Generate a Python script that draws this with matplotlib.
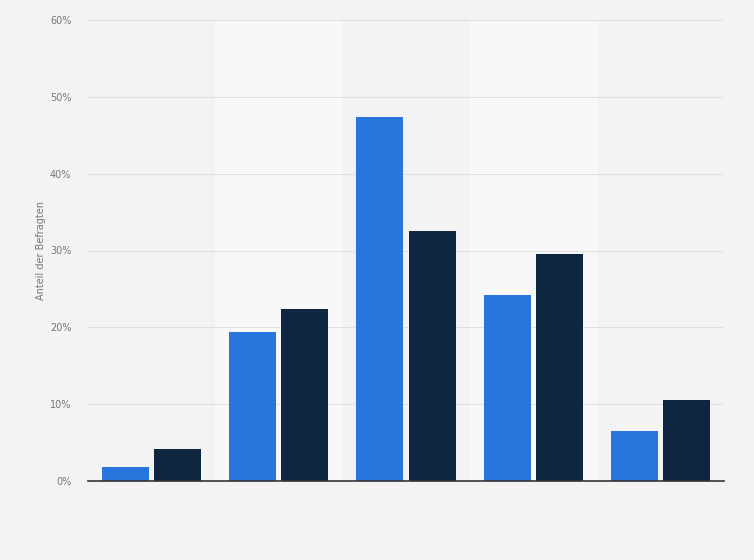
import matplotlib.pyplot as plt
import numpy as np
from matplotlib.ticker import FuncFormatter

# data (percent)
groups = ['1', '2', '3', '4', '5']
series_a = [1.8, 19.4, 47.4, 24.2, 6.5]
series_b = [4.2, 22.4, 32.6, 29.6, 10.5]
yticks = [0, 10, 20, 30, 40, 50, 60]

fig = plt.figure(figsize=(7.54, 5.6), dpi=100, facecolor='#f3f3f3')
ax = fig.add_axes([88 / 754, 79 / 560, 636 / 754, 461 / 560])
ax.set_facecolor('#f3f3f3')

x = np.arange(len(groups))
# alternating light bands
for i in x:
    if i % 2 == 1:
        ax.axvspan(i - 0.5, i + 0.5, color='#f8f8f8', zorder=0, lw=0)

w = 0.37
ax.bar(x - 0.205, series_a, w, color='#2876dd', zorder=3)
ax.bar(x + 0.205, series_b, w, color='#0f2640', zorder=3)

ax.set_xlim(-0.5, len(groups) - 0.5)
ax.set_ylim(0, 60)
ax.set_yticks(yticks)
ax.yaxis.set_major_formatter(FuncFormatter(lambda v, p: f'{v:.0f}%'))
ax.tick_params(axis='y', length=0, labelsize=7, labelcolor='#777777', pad=12)
ax.set_xticks([])
ax.grid(axis='y', color='#cccccc', linestyle=(0, (1, 1)), linewidth=0.7, zorder=1)

for s in ['top', 'right', 'left']:
    ax.spines[s].set_visible(False)
ax.spines['bottom'].set_color('#333333')
ax.spines['bottom'].set_linewidth(1.2)
ax.spines['bottom'].set_zorder(4)

ax.set_ylabel('Anteil der Befragten', fontsize=7, color='#777777')
ax.yaxis.set_label_coords(-0.066, 0.5)

fig.savefig('out.png', dpi=100, facecolor=fig.get_facecolor())
